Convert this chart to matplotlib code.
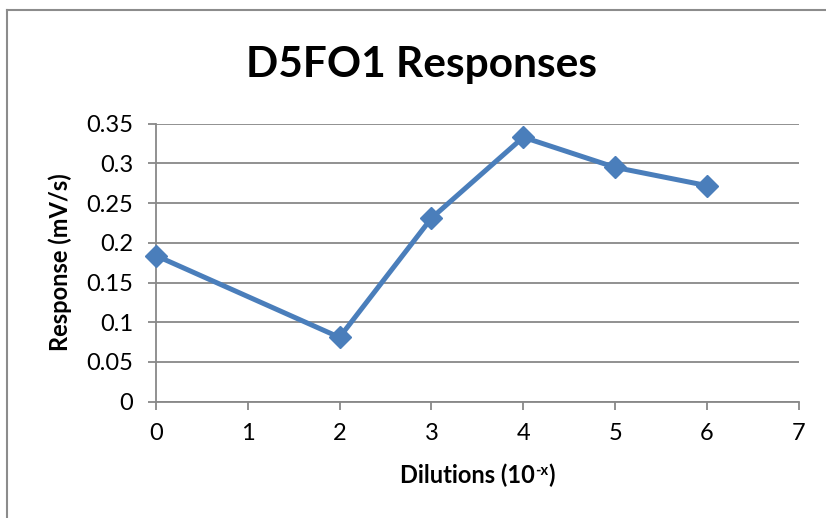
import matplotlib
matplotlib.use("Agg")
import matplotlib.pyplot as plt
from matplotlib.lines import Line2D

plt.rcParams['font.family'] = ['Lato', 'DejaVu Sans']

# Data
dilutions = [0, 2, 3, 4, 5, 6]
responses = [0.184, 0.081, 0.231, 0.333, 0.295, 0.272]
x_ticks = [0, 1, 2, 3, 4, 5, 6, 7]
y_ticks = [0, 0.05, 0.1, 0.15, 0.2, 0.25, 0.3, 0.35]
y_tick_labels = ["0", "0.05", "0.1", "0.15", "0.2", "0.25", "0.3", "0.35"]
title = "D5FO1 Responses"
xlabel_main = "Dilutions (10"
xlabel_sup = "-x"
xlabel_end = ")"
ylabel = "Response (mV/s)"

W, H = 826, 518
fig = plt.figure(figsize=(W / 100, H / 100), dpi=100)
ax = fig.add_axes([155.7 / W, 1 - 401.7 / H, (799 - 155.7) / W, (401.7 - 123.7) / H])

grid_color = "#888888"
line_color = "#4A7EBB"

ax.plot(dilutions, responses, color=line_color, lw=3.6, marker="D",
        markersize=11, markerfacecolor=line_color, markeredgecolor=line_color,
        solid_joinstyle="round", zorder=3, clip_on=False)

ax.set_xlim(0, 7)
ax.set_ylim(0, 0.35)
ax.set_xticks(x_ticks)
ax.set_xticklabels([str(v) for v in x_ticks])
ax.set_yticks(y_ticks)
ax.set_yticklabels(y_tick_labels)

ax.yaxis.grid(True, color=grid_color, lw=1.3)
ax.set_axisbelow(True)
for s in ["top", "right"]:
    ax.spines[s].set_visible(False)
for s in ["left", "bottom"]:
    ax.spines[s].set_color(grid_color)
    ax.spines[s].set_linewidth(1.3)

ax.tick_params(axis="both", direction="out", color=grid_color, width=1.3,
               length=6, labelsize=17, labelcolor="black")
ax.tick_params(axis="y", pad=10)
ax.tick_params(axis="x", pad=9)

fig.text(422 / W, 1 - 65 / H, title, ha="center", va="center",
         fontsize=30.5, fontweight="bold")
fig.text(60 / W, 1 - 262 / H, ylabel, ha="center", va="center",
         fontsize=17, fontweight="bold", rotation=90)

# x label with manual superscript
renderer = fig.canvas.get_renderer()
fs = 17
t1 = fig.text(0, 0, xlabel_main, fontsize=fs, fontweight="bold", va="baseline")
t2 = fig.text(0, 0, xlabel_sup, fontsize=fs * 0.62, fontweight="bold", va="baseline")
t3 = fig.text(0, 0, xlabel_end, fontsize=fs, fontweight="bold", va="baseline")
w1 = t1.get_window_extent(renderer).width
w2 = t2.get_window_extent(renderer).width
w3 = t3.get_window_extent(renderer).width
total = w1 + w2 + w3
cx = 477
base_y = H - 483
x0 = cx - total / 2
t1.set_position((x0 / W, base_y / H))
t2.set_position(((x0 + w1 + 1) / W, (base_y + 8) / H))
t3.set_position(((x0 + w1 + w2 + 1) / W, base_y / H))

# chart border (top and left edges visible)
fig.add_artist(Line2D([7 / W, 7 / W], [0, 1 - 10 / H], transform=fig.transFigure,
                      color="#8c8c8c", lw=1.5))
fig.add_artist(Line2D([7 / W, 1], [1 - 10 / H, 1 - 10 / H], transform=fig.transFigure,
                      color="#8c8c8c", lw=1.5))

fig.savefig("out.png", dpi=100)
